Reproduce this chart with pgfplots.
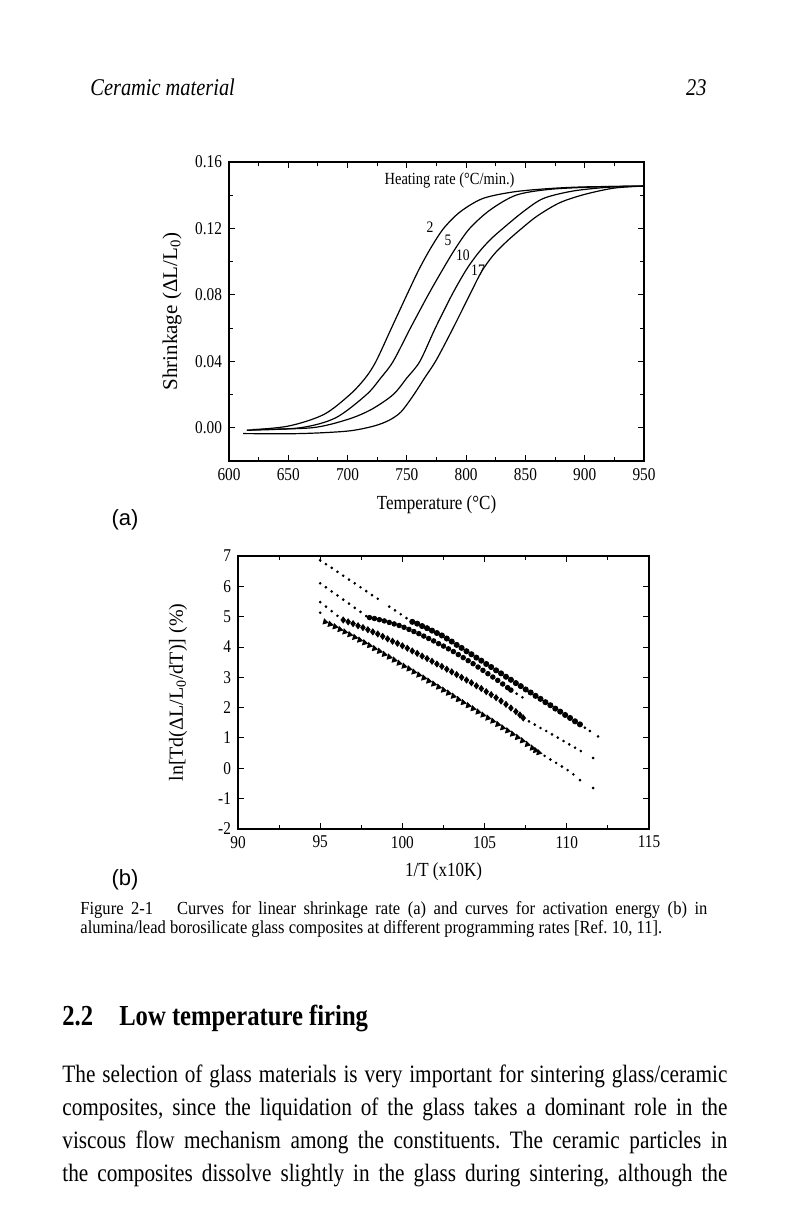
\documentclass[border=0pt]{standalone}
\usepackage{fontspec}
\setmainfont{Liberation Serif}[FakeStretch=0.85]
\newfontfamily\bodyfont{Liberation Serif}[FakeStretch=0.85]
\newfontfamily\capfont{Liberation Serif}[FakeStretch=0.9]
\newfontfamily\vfont{Liberation Serif}
\newfontfamily\panelfont{Liberation Sans}
\usepackage{pgfplots}
\pgfplotsset{compat=1.18}
\frenchspacing

\pgfplotsset{
  pagefig/.style={
    scale only axis,
    axis line style={line width=0.75pt},
    tick style={black, line width=0.5pt},
    major tick length=3pt,
    minor tick length=1.8pt,
    tick label style={font=\fontsize{9}{10}\selectfont},
    label style={font=\fontsize{10}{12}\selectfont},
    /pgf/number format/assume math mode=true,
    clip=false,
  },
  dots/.style={only marks, mark=*, mark size=0.45pt, black},
  curve/.style={black, line width=0.6pt, smooth, tension=0.5},
}

\begin{document}
\begin{tikzpicture}
\path[use as bounding box, fill=white] (0,0) rectangle (400pt,604pt);

% running head
\node[anchor=base west, inner sep=0] at (45pt,556pt) {\fontsize{12}{14}\selectfont\itshape Ceramic material};
\node[anchor=base east, inner sep=0] at (353.5pt,556pt) {\fontsize{12}{14}\selectfont\itshape 23};

% (a) shrinkage curves
\begin{axis}[pagefig,
  at={(114.5pt,373.5pt)}, anchor=south west,
  width=207.5pt, height=149.5pt,
  xmin=600, xmax=950, ymin=-0.02, ymax=0.16,
  xtick={600,650,...,950},
  ytick={0,0.04,0.08,0.12,0.16},
  minor x tick num=1, minor y tick num=1,
  yticklabel style={/pgf/number format/.cd, fixed, fixed zerofill, precision=2},
  xlabel={Temperature (°C)},
  ylabel={Shrinkage (ΔL/L\textsubscript{0})},
  xlabel style={at={(axis description cs:0.5,-0.147)}, anchor=center},
  ylabel style={at={(axis description cs:-0.137,0.5)}, anchor=center, font=\vfont\fontsize{10.5}{12}\selectfont},
]
% 2 C/min
\addplot[curve] coordinates {
(615,-0.0015) (650,0.001) (680,0.008) (702,0.020) (715,0.030) (724,0.040)
(737,0.060) (750,0.080) (760,0.095) (770,0.108) (781,0.120) (795,0.130)
(814,0.138) (840,0.142) (870,0.144) (900,0.145) (950,0.1455)};
% 5 C/min
\addplot[curve] coordinates {
(615,-0.0015) (660,0.000) (690,0.006) (716,0.020) (728,0.030) (738.5,0.040)
(753,0.060) (768,0.080) (780,0.095) (791,0.108) (803,0.120) (820,0.131)
(842,0.140) (870,0.1435) (910,0.145) (950,0.1455)};
% 10 C/min
\addplot[curve] coordinates {
(620,-0.001) (670,0.000) (700,0.005) (720,0.011) (738.5,0.020) (750,0.030)
(761,0.040) (774,0.060) (788,0.080) (800,0.095) (810,0.105) (820,0.113)
(831,0.120) (848,0.130) (865,0.138) (890,0.1425) (920,0.1448) (950,0.1455)};
% 17 C/min
\addplot[curve] coordinates {
(612,-0.0035) (660,-0.0035) (700,-0.002) (722,0.001) (735,0.0045) (745,0.0095)
(755,0.019) (765,0.030) (775,0.041) (789,0.060) (803,0.080) (813,0.094)
(823,0.104) (834,0.112) (846,0.1195) (860,0.1275) (879,0.1355) (900,0.1405)
(925,0.1443) (950,0.1455)};
\node[font=\fontsize{8.5}{10}\selectfont] at (axis cs:786,0.149) {Heating rate (°C/min.)};
\node[font=\fontsize{8}{9}\selectfont] at (axis cs:769.5,0.1206) {2};
\node[font=\fontsize{8}{9}\selectfont] at (axis cs:784.7,0.1127) {5};
\node[font=\fontsize{8}{9}\selectfont] at (axis cs:797.3,0.1036) {10};
\node[font=\fontsize{8}{9}\selectfont] at (axis cs:810,0.095) {17};
\end{axis}
\node[font=\panelfont\fontsize{11}{12}\selectfont] at (62.5pt,344pt) {(a)};

% (b) activation energy plot
\begin{axis}[pagefig,
  at={(119pt,189.5pt)}, anchor=south west,
  width=205.5pt, height=136.5pt,
  xmin=90, xmax=115, ymin=-2, ymax=7,
  xtick={90,95,...,115}, ytick={-2,-1,...,7},
  minor x tick num=1,
  xlabel={1/T (x10K)},
  ylabel={ln[Td(ΔL/L\textsubscript{0}/dT)] (\%)},
  xlabel style={at={(axis description cs:0.5,-0.158)}, anchor=center},
  ylabel style={at={(axis description cs:-0.146,0.5)}, anchor=center, font=\vfont\fontsize{10}{12}\selectfont},
]
% series A
\addplot[dots] coordinates {
(95.0,6.86) (95.35,6.73) (95.7,6.61) (96.05,6.48) (96.4,6.35) (96.75,6.22)
(97.1,6.10) (97.45,5.97) (97.8,5.84) (98.15,5.71) (98.5,5.59) (99.2,5.33)
(99.55,5.21) (99.9,5.08) (100.25,4.95)
(111.1,1.34) (111.4,1.23) (111.9,1.05)};
\addplot[only marks, mark=*, mark size=1.3pt, black] coordinates {
(100.6,4.83) (100.9,4.77) (101.2,4.69) (101.5,4.62) (101.8,4.54) (102.1,4.46)
(102.4,4.38) (102.7,4.28) (103.0,4.18) (103.3,4.07) (103.6,3.97) (103.9,3.86)
(104.2,3.76) (104.5,3.65) (104.8,3.55) (105.1,3.44) (105.4,3.34) (105.7,3.23)
(106.0,3.13) (106.3,3.02) (106.6,2.92) (106.9,2.81) (107.2,2.71) (107.5,2.60)
(107.8,2.50) (108.1,2.39) (108.4,2.29) (108.7,2.18) (109.0,2.08) (109.3,1.97)
(109.6,1.87) (109.9,1.76) (110.2,1.66) (110.5,1.55) (110.8,1.45)};
% series B
\addplot[dots] coordinates {
(95.0,6.10) (95.35,5.97) (95.7,5.83) (96.05,5.70) (96.4,5.56) (96.75,5.43)
(97.1,5.29) (97.45,5.16) (97.8,5.02)
(106.95,2.46) (107.3,2.34)};
\addplot[only marks, mark=*, mark size=1.15pt, black] coordinates {
(98.0,4.97) (98.3,4.94) (98.6,4.90) (98.9,4.86) (99.2,4.81) (99.5,4.76)
(99.8,4.71) (100.1,4.65) (100.4,4.58) (100.7,4.51) (101.0,4.44) (101.3,4.36)
(101.6,4.28) (101.9,4.20) (102.2,4.11) (102.5,4.03) (102.8,3.94) (103.1,3.85)
(103.4,3.75) (103.7,3.65) (104.0,3.55) (104.3,3.45) (104.6,3.34) (104.9,3.23)
(105.2,3.12) (105.5,3.01) (105.8,2.90) (106.1,2.78) (106.4,2.66) (106.6,2.58)};
% series C
\addplot[dots] coordinates {
(95.0,5.48) (95.35,5.33) (95.7,5.18) (96.05,5.03)
(107.7,1.55) (108.05,1.44) (108.4,1.33) (108.75,1.23) (109.1,1.12) (109.45,1.01)
(109.8,0.90) (110.15,0.79) (110.5,0.68) (110.85,0.57) (111.6,0.34)};
\addplot[only marks, mark=diamond*, mark size=1.5pt, black] coordinates {
(96.4,4.89) (96.7,4.83) (97.0,4.77) (97.3,4.70) (97.6,4.64) (97.9,4.57)
(98.2,4.50) (98.5,4.43) (98.8,4.35) (99.1,4.27) (99.4,4.19) (99.7,4.12)
(100.0,4.04) (100.3,3.96) (100.6,3.87) (100.9,3.79) (101.2,3.70) (101.5,3.62)
(101.8,3.53) (102.1,3.44) (102.4,3.36) (102.7,3.27) (103.0,3.18) (103.3,3.09)
(103.6,3.00) (103.9,2.91) (104.2,2.82) (104.5,2.72) (104.8,2.63) (105.1,2.53)
(105.4,2.43) (105.7,2.33) (106.0,2.22) (106.3,2.11) (106.6,1.99) (106.9,1.87)
(107.15,1.76) (107.35,1.66)};
% series D
\addplot[dots] coordinates {
(95.0,5.13)
(108.65,0.41) (109.0,0.29) (109.35,0.18) (109.7,0.06) (110.05,-0.06)
(110.4,-0.20) (110.8,-0.39) (111.6,-0.65)};
\addplot[only marks, mark=triangle*, mark size=1.5pt, mark options={rotate=-105}, black] coordinates {
(95.3,4.83) (95.6,4.75) (95.9,4.67) (96.2,4.58) (96.5,4.50) (96.8,4.41)
(97.1,4.32) (97.4,4.23) (97.7,4.14) (98.0,4.05) (98.3,3.95) (98.6,3.86)
(98.9,3.76) (99.2,3.67) (99.5,3.57) (99.8,3.47) (100.1,3.37) (100.4,3.28)
(100.7,3.18) (101.0,3.08) (101.3,2.98) (101.6,2.88) (101.9,2.78) (102.2,2.68)
(102.5,2.58) (102.8,2.48) (103.1,2.38) (103.4,2.27) (103.7,2.17) (104.0,2.07)
(104.3,1.97) (104.6,1.86) (104.9,1.76) (105.2,1.66) (105.5,1.56) (105.8,1.45)
(106.1,1.34) (106.4,1.24) (106.7,1.13) (107.0,1.02) (107.3,0.91) (107.6,0.79)
(107.9,0.67) (108.1,0.59) (108.3,0.52)};
\end{axis}
\node[font=\panelfont\fontsize{11}{12}\selectfont] at (62.5pt,164pt) {(b)};

% caption
\node[anchor=base west, inner sep=0] at (40pt,146.5pt) {\capfont\fontsize{9.2}{10}\selectfont\makebox[313.5pt][s]{Figure 2-1\hspace{1.3em}Curves for linear shrinkage rate (a) and curves for activation energy (b) in}};
\node[anchor=base west, inner sep=0] at (40pt,137pt) {\capfont\fontsize{9.2}{10}\selectfont alumina/lead borosilicate glass composites at different programming rates [Ref. 10, 11].};

% section heading
\node[anchor=base west, inner sep=0] at (31pt,91pt) {\fontsize{14.5}{17}\selectfont\bfseries 2.2\hspace{0.9em}Low temperature firing};

% body text
\node[anchor=base west, inner sep=0] at (31pt,62.5pt) {\bodyfont\fontsize{12.5}{16}\selectfont\makebox[332.5pt][s]{The selection of glass materials is very important for sintering glass/ceramic}};
\node[anchor=base west, inner sep=0] at (31pt,46pt) {\bodyfont\fontsize{12.5}{16}\selectfont\makebox[332.5pt][s]{composites, since the liquidation of the glass takes a dominant role in the}};
\node[anchor=base west, inner sep=0] at (31pt,29.5pt) {\bodyfont\fontsize{12.5}{16}\selectfont\makebox[332.5pt][s]{viscous flow mechanism among the constituents. The ceramic particles in}};
\node[anchor=base west, inner sep=0] at (31pt,13pt) {\bodyfont\fontsize{12.5}{16}\selectfont\makebox[332.5pt][s]{the composites dissolve slightly in the glass during sintering, although the}};
\end{tikzpicture}
\end{document}
